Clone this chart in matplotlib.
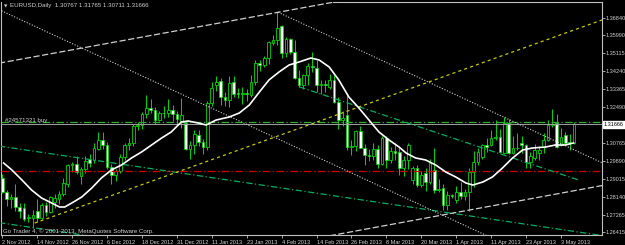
import numpy as np
import matplotlib.pyplot as plt
import matplotlib.transforms as mtransforms

plt.rcParams['font.family'] = ['Liberation Sans Narrow', 'Liberation Sans', 'DejaVu Sans']

# EURUSD daily bars, 2 Nov 2012 .. 8 May 2013 (weekdays only)
opens = [1.2905, 1.2835, 1.2800, 1.2812, 1.2763, 1.2758, 1.2708, 1.2712, 1.2742, 1.2712,
         1.2772, 1.2740, 1.2790, 1.2800, 1.2825, 1.2875, 1.2968, 1.2972, 1.2915, 1.2946,
         1.2995, 1.2993, 1.3045, 1.3090, 1.3066, 1.2958, 1.2920, 1.2938, 1.3007, 1.3066,
         1.3075, 1.3160, 1.3165, 1.3215, 1.3245, 1.3236, 1.3188, 1.3220, 1.3222, 1.3236,
         1.3216, 1.3180, 1.3173, 1.3045, 1.3065, 1.3114, 1.3080, 1.3056, 1.3270, 1.3358,
         1.3377, 1.3299, 1.3285, 1.3372, 1.3318, 1.3312, 1.3318, 1.3309, 1.3372, 1.3465,
         1.3455, 1.3489, 1.3562, 1.3577, 1.3646, 1.3513, 1.3580, 1.3520, 1.3392, 1.3358,
         1.3407, 1.3450, 1.3441, 1.3358, 1.3362, 1.3348, 1.3382, 1.3275, 1.3187, 1.3212,
         1.3056, 1.3062, 1.3133, 1.3051, 1.3017, 1.3010, 1.3046, 1.2975, 1.3099, 1.2993,
         1.3035, 1.3032, 1.2953, 1.2993, 1.2895, 1.2953, 1.2870, 1.2929, 1.2885, 1.2944,
         1.2846, 1.2856, 1.2773, 1.2820, 1.2797, 1.2836, 1.2815, 1.2836, 1.2934, 1.2983,
         1.3007, 1.3066, 1.3066, 1.3100, 1.3105, 1.3027, 1.3173, 1.3027, 1.3050, 1.3075,
         1.3066, 1.2983, 1.3000, 1.3025, 1.3056, 1.3090, 1.3163, 1.3173, 1.3065, 1.3114,
         1.3080, 1.30767]
highs = [1.2925, 1.2848, 1.2828, 1.2876, 1.2782, 1.2785, 1.2730, 1.2748, 1.2802, 1.2784,
         1.2786, 1.2815, 1.2829, 1.2840, 1.2907, 1.2975, 1.2982, 1.3010, 1.2960, 1.3010,
         1.3020, 1.3075, 1.3128, 1.3127, 1.3082, 1.2975, 1.2950, 1.3020, 1.3075, 1.3100,
         1.3170, 1.3175, 1.3225, 1.3308, 1.3290, 1.3250, 1.3230, 1.3255, 1.3287, 1.3262,
         1.3230, 1.3292, 1.3185, 1.3085, 1.3138, 1.3137, 1.3093, 1.3280, 1.3370, 1.3403,
         1.3390, 1.3325, 1.3403, 1.3400, 1.3345, 1.3350, 1.3340, 1.3405, 1.3478, 1.3480,
         1.3498, 1.3574, 1.3600, 1.3711, 1.3650, 1.3590, 1.3587, 1.3575, 1.3430, 1.3412,
         1.3465, 1.3520, 1.3480, 1.3380, 1.3380, 1.3410, 1.3410, 1.3300, 1.3230, 1.3320,
         1.3090, 1.3140, 1.3160, 1.3070, 1.3046, 1.3073, 1.3063, 1.3110, 1.3110, 1.3057,
         1.3075, 1.3055, 1.3010, 1.3077, 1.2965, 1.2967, 1.2940, 1.2955, 1.2997, 1.3050,
         1.2900, 1.2875, 1.2842, 1.2826, 1.2865, 1.2884, 1.2850, 1.2954, 1.3036, 1.3049,
         1.3068, 1.3100, 1.3140, 1.3185, 1.3145, 1.3200, 1.3190, 1.3108, 1.3126, 1.3108,
         1.3070, 1.3030, 1.3070, 1.3060, 1.3125, 1.3185, 1.3242, 1.3215, 1.3150, 1.3130,
         1.3120, 1.31765]
lows = [1.2830, 1.2768, 1.2760, 1.2745, 1.2712, 1.2694, 1.2690, 1.2661, 1.2690, 1.2705,
        1.2720, 1.2735, 1.2760, 1.2778, 1.2815, 1.2860, 1.2935, 1.2925, 1.2877, 1.2930,
        1.2960, 1.2980, 1.3040, 1.3047, 1.2950, 1.2876, 1.2890, 1.2930, 1.2990, 1.3043,
        1.3060, 1.3140, 1.3145, 1.3198, 1.3220, 1.3170, 1.3180, 1.3196, 1.3202, 1.3180,
        1.3165, 1.3150, 1.3040, 1.2998, 1.3020, 1.3060, 1.3020, 1.3040, 1.3257, 1.3330,
        1.3260, 1.3255, 1.3250, 1.3300, 1.3293, 1.3267, 1.3280, 1.3300, 1.3360, 1.3424,
        1.3445, 1.3462, 1.3554, 1.3553, 1.3490, 1.3495, 1.3509, 1.3385, 1.3350, 1.3340,
        1.3357, 1.3423, 1.3325, 1.3314, 1.3325, 1.3340, 1.3270, 1.3145, 1.3160, 1.3040,
        1.3018, 1.3036, 1.3050, 1.2967, 1.2986, 1.2992, 1.2955, 1.2968, 1.2955, 1.2980,
        1.2994, 1.2920, 1.2912, 1.2950, 1.2875, 1.2860, 1.2860, 1.2840, 1.2875, 1.2830,
        1.2835, 1.2750, 1.2750, 1.2805, 1.2782, 1.2800, 1.2798, 1.2745, 1.2860, 1.2970,
        1.2995, 1.3030, 1.3060, 1.3090, 1.3027, 1.3020, 1.3020, 1.3020, 1.3040, 1.3028,
        1.2955, 1.2955, 1.2990, 1.2990, 1.3025, 1.3085, 1.3155, 1.3050, 1.3060, 1.3070,
        1.3040, 1.30711]
closes = [1.2837, 1.2800, 1.2812, 1.2763, 1.2743, 1.2705, 1.2714, 1.2722, 1.2712, 1.2772,
          1.2740, 1.2810, 1.2805, 1.2825, 1.2880, 1.2968, 1.2972, 1.2935, 1.2946, 1.2985,
          1.2980, 1.3051, 1.3090, 1.3065, 1.2958, 1.2920, 1.2938, 1.3007, 1.3066, 1.3075,
          1.3160, 1.3165, 1.3215, 1.3245, 1.3236, 1.3188, 1.3220, 1.3222, 1.3236, 1.3216,
          1.3193, 1.3212, 1.3045, 1.3065, 1.3117, 1.3080, 1.3056, 1.3270, 1.3343, 1.3372,
          1.3299, 1.3285, 1.3367, 1.3314, 1.3312, 1.3318, 1.3313, 1.3372, 1.3465, 1.3455,
          1.3489, 1.3567, 1.3577, 1.3637, 1.3513, 1.3580, 1.3520, 1.3393, 1.3358, 1.3407,
          1.3450, 1.3445, 1.3358, 1.3362, 1.3357, 1.3382, 1.3275, 1.3187, 1.3195, 1.3056,
          1.3062, 1.3133, 1.3051, 1.3017, 1.3010, 1.3046, 1.2975, 1.3099, 1.2993, 1.3035,
          1.3028, 1.2953, 1.2993, 1.3066, 1.2953, 1.2870, 1.2920, 1.2885, 1.2978, 1.2846,
          1.2850, 1.2773, 1.2820, 1.2818, 1.2836, 1.2815, 1.2836, 1.2934, 1.2983, 1.3030,
          1.3066, 1.3058, 1.3100, 1.3105, 1.3030, 1.3173, 1.3027, 1.3050, 1.3052, 1.3066,
          1.2983, 1.3010, 1.3040, 1.3040, 1.3090, 1.3163, 1.3170, 1.3056, 1.3104, 1.3075,
          1.3076, 1.31666]

# white moving average (bar index, price)
ma_x = [0.3, 2.2, 4.5, 6.7, 9.0, 11.3, 13.1, 14.3, 16.3, 18.2, 20.5, 22.7, 25.0, 27.3,
        29.6, 31.9, 34.2, 36.5, 38.7, 41.0, 42.6, 44.9, 46.7, 49.0, 52.0, 54.3, 56.6,
        58.9, 61.1, 63.4, 65.7, 68.0, 70.7, 72.6, 74.9, 77.1, 79.4, 81.7, 84.0, 86.3,
        88.6, 90.9, 92.5, 94.7, 97.0, 99.3, 101.6, 103.9, 106.2, 107.8, 110.1, 112.3,
        114.6, 116.9, 119.2, 121.5, 124.5, 126.7, 129.0, 130.9]
ma_y = [1.29776, 1.29435, 1.28948, 1.28461, 1.28071, 1.27827, 1.27633, 1.27633, 1.27876,
        1.28120, 1.28559, 1.29046, 1.29435, 1.29679, 1.30020, 1.30312, 1.30653, 1.30994,
        1.31286, 1.31773, 1.31822, 1.31725, 1.31627, 1.31871, 1.32017, 1.32212, 1.32602,
        1.33235, 1.33820, 1.34209, 1.34550, 1.34697, 1.34891, 1.34794, 1.34453, 1.33820,
        1.32992, 1.32456, 1.31871, 1.31286, 1.30897, 1.30556, 1.30264, 1.30020, 1.29923,
        1.29679, 1.29338, 1.29095, 1.28803, 1.28705, 1.28851, 1.29095, 1.29533, 1.30020,
        1.30410, 1.30507, 1.30556, 1.30653, 1.30653, 1.30751]

date_labels = ['2 Nov 2012', '14 Nov 2012', '26 Nov 2012', '6 Dec 2012', '18 Dec 2012',
               '31 Dec 2012', '11 Jan 2013', '23 Jan 2013', '4 Feb 2013', '14 Feb 2013',
               '26 Feb 2013', '8 Mar 2013', '20 Mar 2013', '1 Apr 2013', '11 Apr 2013',
               '23 Apr 2013', '3 May 2013']
price_ticks = [1.36840, 1.35990, 1.35115, 1.34240, 1.33365, 1.32490, 1.30765,
               1.29890, 1.29015, 1.28140, 1.27265, 1.26415]

BID = 1.31666
ORDER = 1.3178
STOP = 1.2939

# trendlines: ([bar0, bar1], [price0, price1])
green_lines = [([-1, 140], [1.3061, 1.2616]),
               ([-1, 40], [1.2688, 1.2559]),
               ([68, 132], [1.3349, 1.2895])]
dotted_lines = [([-1, 112], [1.3727, 1.2614]),
                ([63.2, 138], [1.3712, 1.2973])]
dashed_lines = [([-1, 80], [1.3463, 1.3777]),
                ([75, 138], [1.2623, 1.2870])]
yellow_line = ([7.4, 138], [1.2685, 1.3679])

GREEN = '#00d800'
GREY = '#c0c0c0'
TXT = '#d0d0d0'
FS = 4.4
FS_AX = 4.0

fig = plt.figure(figsize=(6.25, 2.45), dpi=100, facecolor='black')
ax = fig.add_axes([1 / 625, 10 / 245, 601 / 625, 233.3 / 245])
ax.set_facecolor('black')
ax.set_xlim(-0.3, 137.4)
ax.set_ylim(1.26269, 1.37634)

o = np.array(opens)
h = np.array(highs)
l = np.array(lows)
c = np.array(closes)
idx = np.arange(len(o))
up = c >= o
bottom = np.minimum(o, c)
height = np.maximum(np.abs(c - o), 0.00005)

# candles
ax.vlines(idx, l, h, color=GREEN, lw=0.7, zorder=2)
ax.bar(idx[up], height[up], bottom=bottom[up], width=0.62,
       color='black', edgecolor=GREEN, lw=0.6, zorder=3)
ax.bar(idx[~up], height[~up], bottom=bottom[~up], width=0.62,
       color='white', edgecolor=GREEN, lw=0.5, zorder=3)

# horizontal levels
ax.axhline(STOP, color='#d00000', lw=0.9, ls=(0, (6, 2, 1, 2)), zorder=4)
ax.axhline(ORDER, color='#30b030', lw=0.9, ls=(0, (6, 2, 1, 2)), zorder=4)
ax.axhline(BID, color='#a0a0a0', lw=0.7, zorder=4)

# trendlines
for xs, ys in green_lines:
    ax.plot(xs, ys, color='#00b060', lw=0.9, ls=(0, (5, 2, 1, 2)), zorder=5)
for xs, ys in dotted_lines:
    ax.plot(xs, ys, color='#d0d0d0', lw=0.8, ls=(0, (1, 1.5)), zorder=5)
for xs, ys in dashed_lines:
    ax.plot(xs, ys, color='#d0d0d0', lw=0.9, ls=(0, (5, 2)), zorder=5)
ax.plot(yellow_line[0], yellow_line[1], color='#c8c800', lw=0.9, ls=(0, (2.5, 2.5)), zorder=5)

# moving average
ax.plot(ma_x, ma_y, color='white', lw=1.2, zorder=6)

# frame
for side in ['left', 'bottom', 'right']:
    ax.spines[side].set_color(GREY)
    ax.spines[side].set_linewidth(0.8)
ax.spines['top'].set_visible(False)
ax.axhline(ax.get_ylim()[1], xmin=0.553, xmax=1, color=GREY, lw=0.8, clip_on=False)

# axes ticks
ax.yaxis.tick_right()
ax.set_yticks(price_ticks)
ax.set_yticklabels(['%.5f' % p for p in price_ticks])
ax.tick_params(axis='y', colors=GREY, labelcolor=TXT, length=2, width=0.6,
               labelsize=FS_AX, pad=0.6)
ax.set_xticks(np.arange(0, 8 * len(date_labels), 8))
ax.set_xticklabels(date_labels)
ax.tick_params(axis='x', colors=GREY, labelcolor=TXT, length=2.5, width=0.6,
               labelsize=FS_AX, pad=1)
for lbl in ax.get_xticklabels():
    lbl.set_ha('left')

# bid label on the price scale
trans = mtransforms.blended_transform_factory(ax.transAxes, ax.transData)
ax.text(1.003, BID, '1.31666', transform=trans, fontsize=FS_AX, color='black',
        va='center', ha='left', zorder=10,
        bbox=dict(boxstyle='square,pad=0.2', fc='white', ec='white'))

# texts
fig.text(4 / 625, 1 - 6 / 245, '\u25bc', fontsize=3.2, color=TXT, va='center',
         family=['DejaVu Sans'])
fig.text(10 / 625, 1 - 6 / 245, 'EURUSD,Daily  1.30767 1.31765 1.30711 1.31666',
         fontsize=FS, color=TXT, va='center')
fig.text(5 / 625, 1 - 120 / 245, '#24571321 buy', fontsize=FS, color=TXT, va='center')
fig.text(3 / 625, 1 - 231 / 245, 'Go Trader 4, \u00a9 2001-2013, MetaQuotes Software Corp.',
         fontsize=FS, color=TXT, va='center')

fig.savefig('out.png', dpi=100, facecolor='black')
